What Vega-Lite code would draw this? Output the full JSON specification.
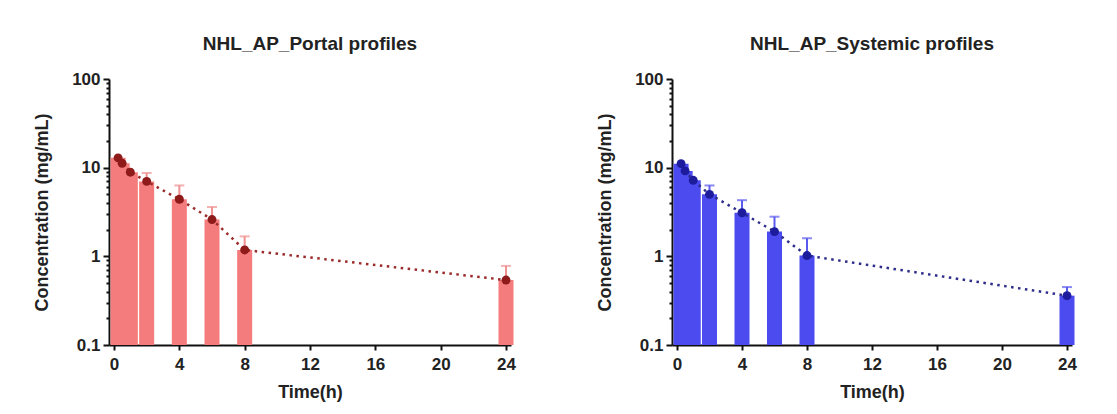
{
  "$schema": "https://vega.github.io/schema/vega-lite/v6.json",
  "background": "white",
  "padding": {"left": 33, "top": 35, "right": 5, "bottom": 5},
  "spacing": 80,
  "datasets": {
    "portal": [
      {"time": 0.25, "conc": 12.9, "hi": null},
      {"time": 0.5, "conc": 11.2, "hi": null},
      {"time": 1, "conc": 8.9, "hi": null},
      {"time": 2, "conc": 7.0, "hi": 8.7},
      {"time": 4, "conc": 4.4, "hi": 6.3},
      {"time": 6, "conc": 2.6, "hi": 3.6},
      {"time": 8, "conc": 1.18, "hi": 1.68},
      {"time": 24, "conc": 0.54, "hi": 0.78}
    ],
    "systemic": [
      {"time": 0.25, "conc": 11.1, "hi": null},
      {"time": 0.5, "conc": 9.2, "hi": null},
      {"time": 1, "conc": 7.2, "hi": null},
      {"time": 2, "conc": 5.0, "hi": 6.3},
      {"time": 4, "conc": 3.1, "hi": 4.3},
      {"time": 6, "conc": 1.9, "hi": 2.8},
      {"time": 8, "conc": 1.02, "hi": 1.6},
      {"time": 24, "conc": 0.36, "hi": 0.45}
    ]
  },
  "config": {
    "font": "Liberation Sans",
    "view": {"stroke": null},
    "axis": {
      "domainColor": "#111111", "domainWidth": 2, "tickColor": "#111111", "tickWidth": 2,
      "labelFont": "Liberation Sans", "labelFontSize": 17, "labelFontWeight": "bold", "labelColor": "#222222",
      "titleFont": "Liberation Sans", "titleFontSize": 18, "titleFontWeight": "bold", "titleColor": "#222222",
      "grid": false, "zindex": 1
    },
    "title": {"font": "Liberation Sans", "fontSize": 19, "fontWeight": "bold", "color": "#222222", "offset": 16, "anchor": "middle"}
  },
  "hconcat": [
    {
      "width": 402, "height": 266,
      "title": {"text": "NHL_AP_Portal profiles"},
      "data": {"name": "portal"},
      "encoding": {
        "x": {"field": "time", "type": "quantitative", "title": "Time(h)",
          "scale": {"domain": [0, 24], "nice": false, "zero": false},
          "axis": {"values": [0, 4, 8, 12, 16, 20, 24], "tickSize": 5, "labelPadding": 6, "titlePadding": 11, "labelFlush": false}}
      },
      "layer": [
        {"mark": {"type": "bar", "width": 15, "color": "#F47C7C"},
         "encoding": {
           "y": {"field": "conc", "type": "quantitative", "title": "Concentration (mg/mL)",
             "scale": {"type": "log", "domain": [0.1, 100], "nice": false},
             "axis": {"values": [0.1,0.2,0.3,0.4,0.5,0.6,0.7,0.8,0.9,1,2,3,4,5,6,7,8,9,10,20,30,40,50,60,70,80,90,100],
               "labelExpr": "datum.value == 100 ? '100' : datum.value == 10 ? '10' : datum.value == 1 ? '1' : datum.value == 0.1 ? '0.1' : ''",
               "labelOverlap": false, "labelPadding": 3, "titlePadding": 20,
               "tickSize": {"condition": {"test": "indexof([0.1,1,10,100], datum.value) >= 0", "value": 6}, "value": 3}}},
           "y2": {"datum": 0.1}}},
        {"transform": [{"filter": "datum.hi != null"}],
         "mark": {"type": "rule", "color": "#F09090", "strokeWidth": 2},
         "encoding": {"y": {"field": "conc", "type": "quantitative", "title": "Concentration (mg/mL)"}, "y2": {"field": "hi"}}},
        {"transform": [{"filter": "datum.hi != null"}],
         "mark": {"type": "tick", "orient": "horizontal", "size": 10, "thickness": 2, "color": "#F09090"},
         "encoding": {"y": {"field": "hi", "type": "quantitative", "title": "Concentration (mg/mL)"}}},
        {"mark": {"type": "line", "color": "#9B2A2A", "strokeDash": [2.5, 4.5], "strokeWidth": 2.5},
         "encoding": {"y": {"field": "conc", "type": "quantitative", "title": "Concentration (mg/mL)"}}},
        {"mark": {"type": "point", "shape": "circle", "filled": true, "size": 80, "color": "#8E1A1A", "opacity": 1},
         "encoding": {"y": {"field": "conc", "type": "quantitative", "title": "Concentration (mg/mL)"}}}
      ]
    },
    {
      "width": 400, "height": 266,
      "title": {"text": "NHL_AP_Systemic profiles"},
      "data": {"name": "systemic"},
      "encoding": {
        "x": {"field": "time", "type": "quantitative", "title": "Time(h)",
          "scale": {"domain": [0, 24], "nice": false, "zero": false},
          "axis": {"values": [0, 4, 8, 12, 16, 20, 24], "tickSize": 5, "labelPadding": 6, "titlePadding": 11, "labelFlush": false}}
      },
      "layer": [
        {"mark": {"type": "bar", "width": 15, "color": "#4B4BEF"},
         "encoding": {
           "y": {"field": "conc", "type": "quantitative", "title": "Concentration (mg/mL)",
             "scale": {"type": "log", "domain": [0.1, 100], "nice": false},
             "axis": {"values": [0.1,0.2,0.3,0.4,0.5,0.6,0.7,0.8,0.9,1,2,3,4,5,6,7,8,9,10,20,30,40,50,60,70,80,90,100],
               "labelExpr": "datum.value == 100 ? '100' : datum.value == 10 ? '10' : datum.value == 1 ? '1' : datum.value == 0.1 ? '0.1' : ''",
               "labelOverlap": false, "labelPadding": 3, "titlePadding": 20,
               "tickSize": {"condition": {"test": "indexof([0.1,1,10,100], datum.value) >= 0", "value": 6}, "value": 3}}},
           "y2": {"datum": 0.1}}},
        {"transform": [{"filter": "datum.hi != null"}],
         "mark": {"type": "rule", "color": "#5A5AEE", "strokeWidth": 2},
         "encoding": {"y": {"field": "conc", "type": "quantitative", "title": "Concentration (mg/mL)"}, "y2": {"field": "hi"}}},
        {"transform": [{"filter": "datum.hi != null"}],
         "mark": {"type": "tick", "orient": "horizontal", "size": 10, "thickness": 2, "color": "#5A5AEE"},
         "encoding": {"y": {"field": "hi", "type": "quantitative", "title": "Concentration (mg/mL)"}}},
        {"mark": {"type": "line", "color": "#2E2E8A", "strokeDash": [2.5, 4.5], "strokeWidth": 2.5},
         "encoding": {"y": {"field": "conc", "type": "quantitative", "title": "Concentration (mg/mL)"}}},
        {"mark": {"type": "point", "shape": "circle", "filled": true, "size": 80, "color": "#1C1C9C", "opacity": 1},
         "encoding": {"y": {"field": "conc", "type": "quantitative", "title": "Concentration (mg/mL)"}}}
      ]
    }
  ]
}
